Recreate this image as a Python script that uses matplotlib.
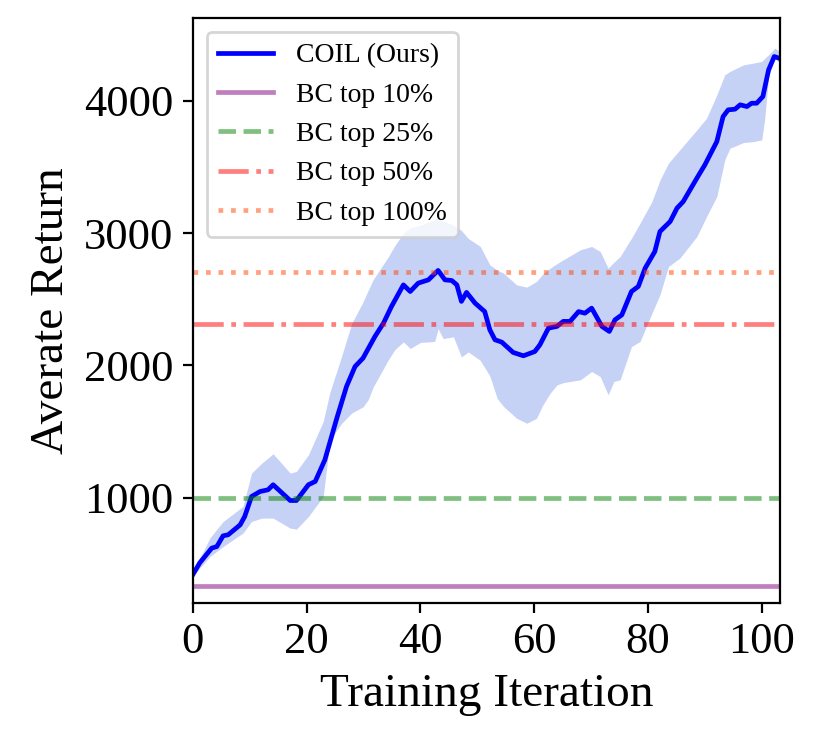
import numpy as np
import matplotlib
matplotlib.use("Agg")
import matplotlib.pyplot as plt

plt.rcParams['font.family'] = ['Liberation Serif', 'DejaVu Serif']

# COIL mean curve (traced)
coil_x = [0, 1.2, 3.3, 4.2, 5.3, 6.2, 8.3, 9.1, 10.3, 11.8, 13.2, 14.1, 17.1, 18.2,
          20.3, 21.5, 23.2, 25.3, 27.0, 28.5, 29.9, 32.0, 33.5, 34.9, 37.0, 38.2,
          39.6, 41.4, 43.1, 44.3, 45.5, 46.4, 47.2, 48.1, 49.6, 51.3, 52.2, 53.1,
          54.3, 56.3, 58.1, 60.1, 61.0, 62.5, 64.0, 65.1, 66.3, 67.8, 68.9, 70.1,
          71.9, 73.2, 74.2, 75.4, 77.1, 78.3, 79.5, 81.2, 82.1, 83.9, 85.1, 86.2,
          88.6, 90.0, 92.1, 93.2, 94.1, 95.3, 96.2, 97.4, 98.2, 99.1, 100.2, 101.2,
          102.2, 103.0]
coil_y = [420, 508, 619, 631, 712, 720, 795, 858, 1009, 1047, 1060, 1098, 979, 979,
          1098, 1123, 1287, 1602, 1841, 1992, 2055, 2219, 2320, 2445, 2609, 2559,
          2622, 2647, 2718, 2647, 2642, 2609, 2484, 2552, 2471, 2407, 2269, 2194,
          2176, 2098, 2073, 2105, 2156, 2282, 2295, 2333, 2333, 2407, 2395, 2433,
          2295, 2257, 2345, 2382, 2559, 2597, 2735, 2861, 3012, 3088, 3189, 3239,
          3416, 3516, 3692, 3881, 3932, 3937, 3970, 3957, 3982, 3982, 4033, 4234,
          4335, 4323]

# shaded band edges
band_x = [0, 3.0, 5.3, 8.8, 10.3, 12.1, 14.1, 17.1, 18.2, 20.3, 22.9, 24.1, 26.1,
          27.9, 29.9, 30.8, 31.7, 34.3, 35.5, 37.0, 38.2, 40.0, 42.5, 43.1, 44.0,
          45.8, 47.2, 48.4, 50.5, 52.2, 53.5, 54.6, 56.9, 58.7, 60.4, 61.5, 62.8,
          64.0, 65.1, 68.1, 70.1, 71.6, 73.0, 74.0, 75.1, 77.1, 78.6, 80.7, 82.1,
          83.6, 85.6, 88.6, 90.3, 92.1, 93.5, 94.4, 96.8, 98.5, 100.0, 100.5,
          101.2, 102.3, 103.2]
band_hi = [440, 697, 820, 934, 1186, 1261, 1332, 1186, 1199, 1324, 1576, 1800, 2064,
           2316, 2480, 2567, 2650, 2818, 2906, 3000, 3040, 3060, 3100, 3110, 3090,
           3060, 3020, 2960, 2900, 2760, 2720, 2698, 2609, 2592, 2635, 2690, 2735,
           2770, 2798, 2874, 2899, 2861, 2735, 2780, 2823, 2962, 3075, 3239, 3400,
           3529, 3630, 3781, 3869, 4045, 4197, 4222, 4272, 4285, 4298, 4320,
           4348, 4399, 4373]
band_lo = [410, 556, 631, 733, 820, 846, 846, 770, 763, 858, 1009, 1436, 1560,
           1640, 1687, 1740, 1838, 2039, 2120, 2178, 2128, 2174, 2181, 2278, 2203,
           2216, 2064, 2102, 2039, 1920, 1750, 1690, 1601, 1563, 1601, 1700, 1790,
           1853, 1870, 1891, 1954, 1916, 1778, 1879, 1891, 2143, 2181, 2395, 2534,
           2748, 2811, 2975, 3126, 3277, 3554, 3642, 3685, 3692, 3705, 3856,
           4184, 4323, 4285]

bc_labels = ['BC top 10%', 'BC top 25%', 'BC top 50%', 'BC top 100%']
bc_values = [335, 1000, 2315, 2710]
bc_colors = ['purple', 'green', 'red', 'orangered']
bc_styles = ['-', '--', '-.', ':']

fig = plt.figure(figsize=(4.105, 3.73), dpi=200)
ax = fig.add_axes([0.235, 0.192, 0.715, 0.784])

ax.fill_between(band_x, band_lo, band_hi, color='royalblue', alpha=0.3, linewidth=0)
ax.plot(coil_x, coil_y, color='blue', lw=1.7, label='COIL (Ours)')
for val, lab, col, ls in zip(bc_values, bc_labels, bc_colors, bc_styles):
    ax.axhline(val, color=col, ls=ls, lw=1.7, alpha=0.5, label=lab)

ax.set_xlim(0, 103.2)
ax.set_ylim(206, 4627)
ax.set_xticks([0, 20, 40, 60, 80, 100])
ax.set_yticks([1000, 2000, 3000, 4000])
ax.tick_params(labelsize=16)
ax.set_xlabel('Training Iteration', fontsize=17)
ax.set_ylabel('Averate Return', fontsize=17)
ax.legend(loc='upper left', fontsize=10)

fig.savefig('out.png', dpi=200)
